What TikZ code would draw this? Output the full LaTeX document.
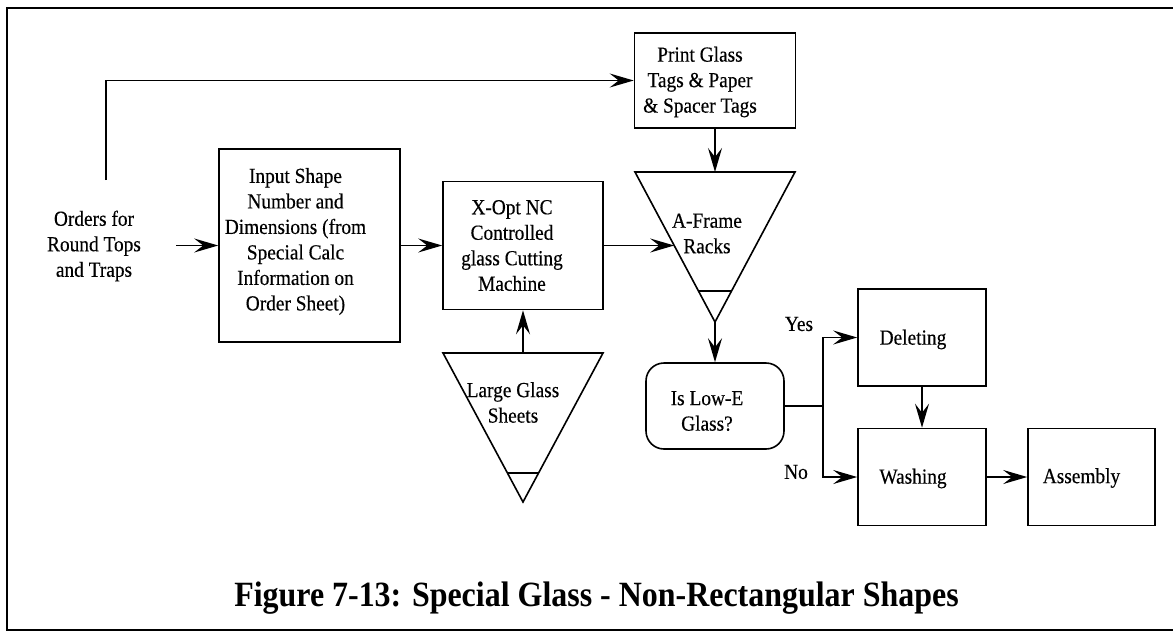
\documentclass[tikz,border=0pt]{standalone}
\usepackage{fontspec}
\setmainfont{Liberation Serif}
\newfontfamily\diagfont[FakeStretch=0.9,FakeBold=0.3]{Liberation Serif}
\newfontfamily\titlefam[FakeStretch=0.9]{Liberation Serif}
\usetikzlibrary{arrows.meta,calc}
\begin{document}
\begin{tikzpicture}[x=1pt,y=-1pt,
  every node/.style={font=\diagfont\fontsize{21.5}{25.5}\selectfont, align=center, inner sep=0pt},
  box/.style={draw, line width=1.6pt},
  arr/.style={line width=1.5pt, -{Stealth[length=24pt,width=14pt,inset=9pt]}},
  conn/.style={line width=1.5pt},
  tri/.style={draw, line width=1.6pt, line join=miter},
  titlefont/.style={font=\titlefam\bfseries\fontsize{35.5}{40}\selectfont}]
\useasboundingbox (0,0) rectangle (1173,633);
% frame
\draw[line width=2.6pt] (1173,8) -- (7,8) -- (7,630) -- (1173,630);

% boxes
\node[box, minimum width=181pt, minimum height=193pt] (inp) at (309.5,245.5) {};
\node (inpt) at ([xshift=-14pt,yshift=4pt]inp.center) {Input Shape\\Number and\\Dimensions (from\\Special Calc\\Information on\\Order Sheet)};

\node[box, minimum width=160pt, minimum height=128pt] (xopt) at (523,245.5) {};
\node (xoptt) at ([xshift=-11pt]xopt.center) {X-Opt NC\\Controlled\\glass Cutting\\Machine};

\node[box, minimum width=161pt, minimum height=95pt] (print) at (715,80.5) {};
\node (printt) at ([xshift=-15pt,yshift=-1.5pt]print.center) {Print Glass\\Tags \& Paper\\\& Spacer Tags};

\node[box, rounded corners=18pt, minimum width=138pt, minimum height=86pt] (lowe) at (715,406) {};
\node (lowet) at ([xshift=-8pt,yshift=-5pt]lowe.center) {Is Low-E\\Glass?};

\node[box, minimum width=128pt, minimum height=97pt] (del) at (922,337.5) {};
\node (delt) at ([xshift=-9pt,yshift=-2pt]del.center) {Deleting};

\node[box, minimum width=128pt, minimum height=97pt] (wash) at (922,477) {};
\node (washt) at ([xshift=-9pt,yshift=-1.5pt]wash.center) {Washing};

\node[box, minimum width=127pt, minimum height=97pt] (asm) at (1091.5,477) {};
\node (asmt) at ([xshift=-10pt,yshift=-1pt]asm.center) {Assembly};

% orders text
\node (orders) at (94,246) {Orders for\\Round Tops\\and Traps};

% A-Frame triangle
\coordinate (afL) at (635,172);
\coordinate (afR) at (795,172);
\coordinate (afB) at (715,322);
\draw[tri] (afL) -- (afR) -- (afB) -- cycle;
\draw[conn] ($(afB)!0.207!(afL)$) -- ($(afB)!0.207!(afR)$);
\node (aft) at (707,233.5) {A-Frame\\Racks};

% Large glass triangle
\coordinate (lgL) at (443,353);
\coordinate (lgR) at (603,353);
\coordinate (lgB) at (523,502);
\draw[tri] (lgL) -- (lgR) -- (lgB) -- cycle;
\draw[conn] ($(lgB)!0.195!(lgL)$) -- ($(lgB)!0.195!(lgR)$);
\node (lgt) at (513,402.5) {Large Glass\\Sheets};

% labels
\node (yes) at (799,324) {Yes};
\node (no) at (796,472) {No};

% title
\node[titlefont] (title) at (596.5,598) {Figure 7-13: Special Glass - Non-Rectangular Shapes};

% connectors
\coordinate (ordout) at (176,245.5);
\draw[arr] (ordout) -- (inp.west);
\coordinate (ordup) at (106,180);
\draw[arr] (ordup) |- (print.west);
\draw[arr] (inp.east) -- (xopt.west);
\draw[arr] ($(lgL)!0.5!(lgR)$) -- (xopt.south);
\coordinate (afin) at ($(afL)!0.49!(afB)$);
\draw[arr] (xopt.east) -- (xopt.east -| afin);
\draw[arr] (print.south) -- ($(afL)!0.5!(afR)$);
\draw[arr] (afB) -- (lowe.north);
\draw[conn] (lowe.east) -- ++(38,0) coordinate (junc);
\draw[arr] (junc) |- (del.west);
\draw[arr] (junc) |- (wash.west);
\draw[arr] (del.south) -- (wash.north);
\draw[arr] (wash.east) -- (asm.west);
\end{tikzpicture}
\end{document}
